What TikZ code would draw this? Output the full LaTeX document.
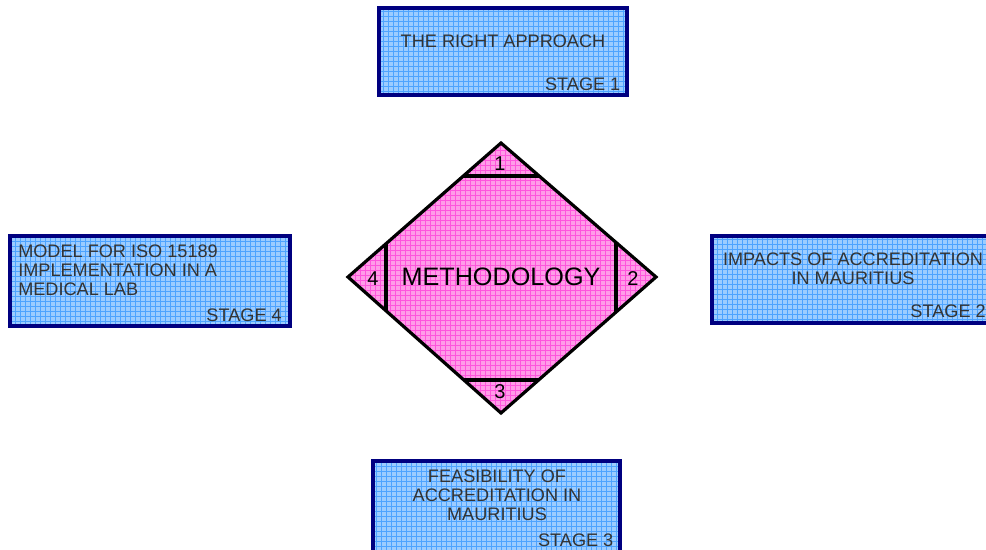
\documentclass[tikz,border=0pt]{standalone}
\usepackage{fontspec}
\setmainfont{Liberation Sans}
\usetikzlibrary{calc}
\definecolor{boxfill}{HTML}{9CCCFF}
\definecolor{boxgrid}{HTML}{4DA3FF}
\definecolor{boxline}{HTML}{000080}
\definecolor{pinkfill}{HTML}{FF9CE8}
\definecolor{pinkgrid}{HTML}{FF55DD}
\definecolor{txtgray}{HTML}{333333}
\tikzset{
  bluegrid/.style={path picture={\draw[boxgrid,line width=0.55pt,step=3.75pt]
     ([shift={(-4pt,-4pt)}]path picture bounding box.south west) grid
     ([shift={(4pt,4pt)}]path picture bounding box.north east);}},
  pinkgridpic/.style={path picture={\draw[pinkgrid,line width=0.55pt,step=3.75pt]
     ([shift={(-4pt,-4pt)}]path picture bounding box.south west) grid
     ([shift={(4pt,4pt)}]path picture bounding box.north east);}},
  stagebox/.style={rectangle,draw=boxline,line width=2.4pt,fill=boxfill,bluegrid,inner sep=0pt},
  boxtext/.style={text=txtgray,font=\fontsize{13.6}{14.3}\selectfont,inner sep=0pt},
  stagetext/.style={boxtext,anchor=east},
  numtext/.style={font=\fontsize{15}{16}\selectfont,inner sep=0pt},
  diamline/.style={line width=2.4pt,black},
}
\begin{document}
\begin{tikzpicture}[x=0.75pt,y=-0.75pt]
\useasboundingbox (0,0) rectangle (986,550);
\begin{scope}
\clip (0,0) rectangle (986,550);
% boxes
\node[stagebox,minimum width=186pt,minimum height=65.25pt] (b1) at (503,51.5) {};
\node[stagebox,minimum width=210pt,minimum height=65.25pt] (b2) at (852,279.5) {};
\node[stagebox,minimum width=185.25pt,minimum height=68.25pt] (b3) at (496.5,506.5) {};
\node[stagebox,minimum width=210pt,minimum height=67.5pt] (b4) at (150,281) {};
\end{scope}
% box texts
\node[boxtext] (t1) at (503,41) {THE RIGHT APPROACH};
\node[stagetext] (s1) at ([shift={(-8,-12)}]b1.south east) {STAGE 1};
\node[boxtext,align=center] (t2) at (853,268.5) {IMPACTS OF ACCREDITATION\\IN MAURITIUS};
\node[stagetext] (s2) at (986,311) {STAGE 2};
\node[boxtext,align=center] (t3) at (497,495.5) {FEASIBILITY OF\\ACCREDITATION IN\\MAURITIUS};
\node[stagetext] (s3) at ([shift={(-8,0)}]b3.east |- 0,540) {STAGE 3};
\node[boxtext,align=left,anchor=west] (t4) at (18,270) {MODEL FOR ISO 15189\\IMPLEMENTATION IN A\\MEDICAL LAB};
\node[stagetext] (s4) at (282,315) {STAGE 4};
% diamond
\coordinate (T) at (501,143);
\coordinate (R) at (656,277);
\coordinate (B) at (501,413);
\coordinate (L) at (348,277);
\path[fill=pinkfill,pinkgridpic] (T) -- (R) -- (B) -- (L) -- cycle;
\draw[diamline] ($(L)!0.754!(T)$) -- ($(R)!0.754!(T)$);
\draw[diamline] ($(L)!0.757!(B)$) -- ($(R)!0.757!(B)$);
\draw[diamline] ($(L)!0.248!(T)$) -- ($(L)!0.248!(B)$);
\draw[diamline] ($(R)!0.258!(T)$) -- ($(R)!0.258!(B)$);
\draw[diamline,line join=miter] (T) -- (R) -- (B) -- (L) -- cycle;
\node[font=\fontsize{18.9}{20}\selectfont,inner sep=0pt] (m) at (501,277) {METHODOLOGY};
\node[numtext] (n1) at (500,164) {1};
\node[numtext] (n2) at (633,279) {2};
\node[numtext] (n3) at (500,392) {3};
\node[numtext] (n4) at (373,279) {4};
\end{tikzpicture}
\end{document}
